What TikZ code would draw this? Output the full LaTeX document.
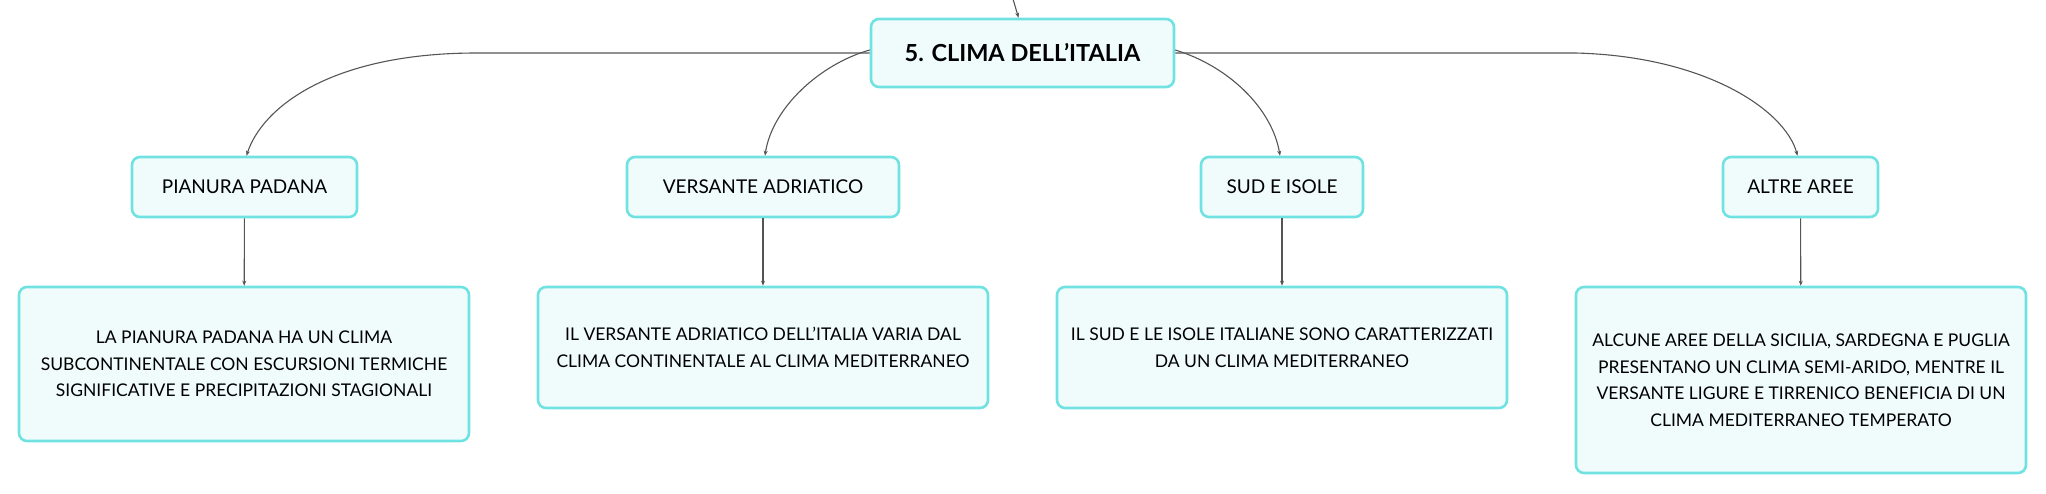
\documentclass[tikz,border=0pt]{standalone}
\usepackage{fontspec}
\setmainfont{Lato}
\usetikzlibrary{arrows.meta}
\definecolor{bord}{RGB}{112,226,226}
\definecolor{boxfill}{RGB}{240,251,251}
\definecolor{conncol}{RGB}{85,85,85}
\begin{document}
\begin{tikzpicture}[x=1pt,y=-1pt,
  box/.style={draw=bord,fill=boxfill,line width=2.6pt,rounded corners=8pt,align=center,inner sep=0pt,text=black},
  topic/.style={box,minimum height=60pt,font=\fontsize{19}{26.5}\selectfont},
  content/.style={box,minimum width=450pt,font=\fontsize{17.5}{26.5}\selectfont},
  conn/.style={draw=conncol,line width=1.1pt,-{Stealth[length=5pt,width=4pt]}}]
\useasboundingbox (0,0) rectangle (2046,494);
\node[box,minimum width=303pt,minimum height=68pt,font=\fontsize{23.5}{28}\selectfont\bfseries] (root) at (1022.5,53) {5. CLIMA DELL'ITALIA};
\node[topic,minimum width=225pt] (pp) at (244.5,187) {PIANURA PADANA};
\node[topic,minimum width=272pt] (va) at (763,187) {VERSANTE ADRIATICO};
\node[topic,minimum width=162pt] (si) at (1282,187) {SUD E ISOLE};
\node[topic,minimum width=155pt] (aa) at (1800.5,187) {ALTRE AREE};
\node[content,minimum height=154pt] (c1) at (244,364) {LA PIANURA PADANA HA UN CLIMA\\SUBCONTINENTALE CON ESCURSIONI TERMICHE\\SIGNIFICATIVE E PRECIPITAZIONI STAGIONALI};
\node[content,minimum height=121pt] (c2) at (763,347.5) {IL VERSANTE ADRIATICO DELL'ITALIA VARIA DAL\\CLIMA CONTINENTALE AL CLIMA MEDITERRANEO};
\node[content,minimum height=121pt] (c3) at (1282,347.5) {IL SUD E LE ISOLE ITALIANE SONO CARATTERIZZATI\\DA UN CLIMA MEDITERRANEO};
\node[content,minimum height=186pt] (c4) at (1801,380) {ALCUNE AREE DELLA SICILIA, SARDEGNA E PUGLIA\\PRESENTANO UN CLIMA SEMI-ARIDO, MENTRE IL\\VERSANTE LIGURE E TIRRENICO BENEFICIA DI UN\\CLIMA MEDITERRANEO TEMPERATO};
\coordinate (top) at (1013,-1);
\coordinate (lbend) at (477,53);
\coordinate (rbend) at (1575,53);
\draw[conn] (top) -- ([xshift=-4pt]root.north);
\draw[conn] (root.west) -- (lbend) .. controls (330,53) and (262,108) .. ([xshift=2pt]pp.north);
\draw[conn] ([yshift=3pt]root.west) .. controls (820,64) and (772,108) .. ([xshift=2pt]va.north);
\draw[conn] (root.east) -- (rbend) .. controls (1705,56) and (1785,110) .. ([xshift=-3pt]aa.north);
\draw[conn] ([yshift=3pt]root.east) .. controls (1228,66) and (1272,108) .. ([xshift=-2pt]si.north);
\draw[conn] (pp) -- (c1);
\draw[conn] (va) -- (c2);
\draw[conn] (si) -- (c3);
\draw[conn] (aa) -- (c4);
\end{tikzpicture}
\end{document}
